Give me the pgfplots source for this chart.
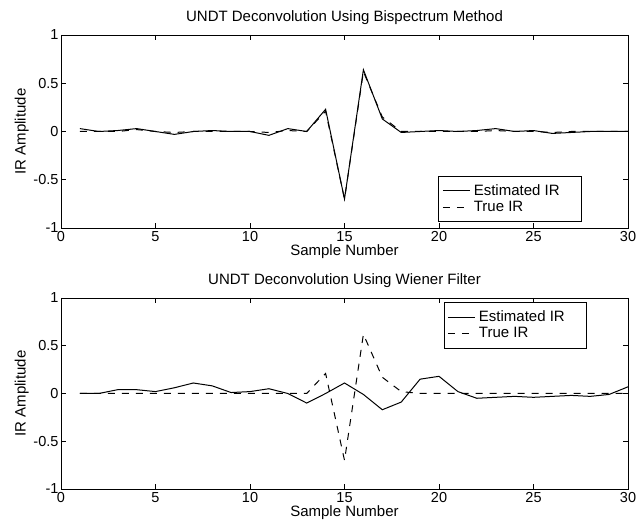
\documentclass[border=0pt]{standalone}
\usepackage{fontspec}
\setmainfont{Liberation Sans}
\usepackage{pgfplots}
\pgfplotsset{compat=1.18}
\pgfplotsset{
  mystyle/.style={
    width=567pt, height=193pt, scale only axis,
    xmin=0, xmax=30, ymin=-1, ymax=1,
    xtick={0,5,...,30}, ytick={-1,-0.5,0,0.5,1},
    tick align=inside, major tick length=5pt,
    tick style={black, line width=0.8pt},
    axis line style={line width=0.8pt},
    /pgf/number format/assume math mode=true,
    ticklabel style={font=\fontsize{14.5}{16}\selectfont},
    yticklabel style={xshift=1pt},
    label style={font=\fontsize{15}{17}\selectfont},
    title style={font=\fontsize{15}{17}\selectfont, yshift=1pt},
    xlabel={Sample Number}, ylabel={IR Amplitude},
    xlabel style={yshift=4pt},
    ylabel style={yshift=-2pt},
    legend style={font=\fontsize{15}{17}\selectfont, draw=black, line width=0.8pt,
      cells={anchor=west}, inner xsep=3.5pt, inner ysep=8pt, row sep=3pt,
      nodes={inner xsep=3.5pt, inner ysep=0pt, text height=11pt, text depth=2.3pt}},
    legend image code/.code={\draw[#1, line width=1pt] (0pt,0pt) -- (27pt,0pt);},
  }
}
\begin{document}
\begin{tikzpicture}[x=1pt,y=1pt]
\useasboundingbox (0,0) rectangle (642,527);
\begin{axis}[mystyle, at={(61pt,299pt)}, anchor=south west,
  title={UNDT Deconvolution Using Bispectrum Method},
  legend style={at={(0.919,0.03)}, anchor=south east}]
\addplot[black, line width=1pt] coordinates {
(1,0.03)(2,0.0)(3,0.01)(4,0.03)(5,0.0)(6,-0.03)(7,0.0)(8,0.01)(9,0.0)(10,0.0)
(11,-0.04)(12,0.03)(13,0.0)(14,0.23)(15,-0.70)(16,0.64)(17,0.13)(18,-0.01)(19,0.0)(20,0.01)
(21,0.0)(22,0.01)(23,0.03)(24,0.0)(25,0.01)(26,-0.02)(27,-0.01)(28,0.0)(29,0.0)(30,0.0)};
\addlegendentry{Estimated IR\hspace*{15pt}}
\addplot[black, line width=1pt, dash pattern=on 7pt off 7pt] coordinates {
(1,0.0)(2,0.0)(3,0.0)(4,0.02)(5,0.0)(6,-0.01)(7,0.0)(8,0.0)(9,0.0)(10,0.0)
(11,-0.01)(12,0.01)(13,0.0)(14,0.21)(15,-0.70)(16,0.62)(17,0.15)(18,0.0)(19,0.0)(20,0.0)
(21,0.0)(22,0.0)(23,0.01)(24,0.0)(25,0.0)(26,-0.01)(27,0.0)(28,0.0)(29,0.0)(30,0.0)};
\addlegendentry{True IR}
\end{axis}
\begin{axis}[mystyle, height=191pt, at={(61pt,38pt)}, anchor=south west,
  title={UNDT Deconvolution Using Wiener Filter},
  legend style={at={(0.928,0.979)}, anchor=north east}]
\addplot[black, line width=1pt] coordinates {
(1,0.0)(2,0.0)(3,0.04)(4,0.04)(5,0.02)(6,0.06)(7,0.11)(8,0.08)(9,0.01)(10,0.02)
(11,0.05)(12,0.0)(13,-0.10)(14,0.0)(15,0.11)(16,-0.01)(17,-0.17)(18,-0.09)(19,0.15)(20,0.18)
(21,0.02)(22,-0.05)(23,-0.04)(24,-0.03)(25,-0.04)(26,-0.03)(27,-0.02)(28,-0.03)(29,-0.01)(30,0.07)};
\addlegendentry{Estimated IR\hspace*{15pt}}
\addplot[black, line width=1pt, dash pattern=on 7pt off 7pt] coordinates {
(1,0.0)(2,0.0)(3,0.0)(4,0.0)(5,0.0)(6,0.0)(7,0.0)(8,0.0)(9,0.0)(10,0.0)
(11,0.0)(12,0.0)(13,0.0)(14,0.21)(15,-0.70)(16,0.62)(17,0.17)(18,0.02)(19,0.0)(20,0.0)
(21,0.0)(22,0.0)(23,0.0)(24,0.0)(25,0.0)(26,0.0)(27,0.0)(28,0.0)(29,0.0)(30,0.0)};
\addlegendentry{True IR}
\end{axis}
\end{tikzpicture}
\end{document}
